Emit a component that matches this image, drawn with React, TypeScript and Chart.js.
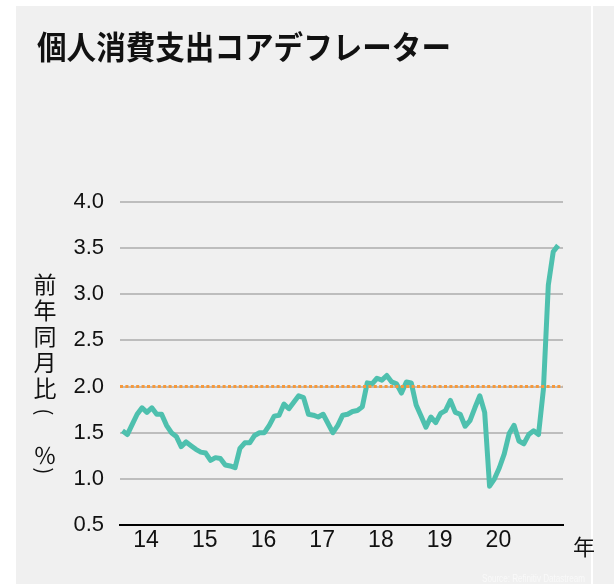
import React, { useEffect, useRef } from "react";
import { Chart, registerables } from "chart.js";

Chart.register(...registerables);

const chartTitle = "個人消費支出コアデフレーター";
const yAxisTitleChars = ["前", "年", "同", "月", "比"];
const yAxisUnitOpen = "(";
const yAxisUnit = "％";
const yAxisUnitClose = ")";
const xAxisUnit = "年";
const sourceText = "Source: Refinitiv Datastream";

const yearLabels = ["14", "15", "16", "17", "18", "19", "20"];
// Monthly core PCE deflator YoY (%), Jan 2014 – Jun 2021
const coreValues = [
  1.52, 1.48, 1.59, 1.70, 1.77, 1.72, 1.77, 1.70, 1.70, 1.58, 1.50, 1.46,
  1.35, 1.40, 1.36, 1.32, 1.29, 1.28, 1.20, 1.23, 1.22, 1.15, 1.14, 1.12,
  1.33, 1.39, 1.39, 1.47, 1.50, 1.50, 1.58, 1.68, 1.69, 1.81, 1.76, 1.83,
  1.90, 1.88, 1.70, 1.69, 1.67, 1.70, 1.60, 1.50, 1.58, 1.69, 1.70, 1.73,
  1.74, 1.78, 2.04, 2.03, 2.09, 2.07, 2.12, 2.05, 2.03, 1.93, 2.05, 2.04,
  1.80, 1.68, 1.56, 1.67, 1.61, 1.71, 1.74, 1.85, 1.72, 1.70, 1.57, 1.63,
  1.77, 1.90, 1.72, 0.92, 1.00, 1.12, 1.27, 1.49, 1.58, 1.41, 1.38, 1.48,
  1.52, 1.48, 1.97, 3.10, 3.46, 3.53,
];
const targetValue = 2.0;
const yMin = 0.5;
const yMax = 4.0;
const yStep = 0.5;

const W = 614;
const H = 584;

const decorPlugin = {
  id: "decor",
  beforeDraw(chart: any) {
    const ctx = chart.ctx;
    ctx.save();
    ctx.fillStyle = "#ffffff";
    ctx.fillRect(0, 0, W, H);
    ctx.fillStyle = "#f0f0f0";
    ctx.fillRect(16, 6, W - 16, H - 6);
    ctx.fillStyle = "#ffffff";
    ctx.fillRect(591, 6, 2, H - 6);
    ctx.restore();
  },
  afterDraw(chart: any) {
    const ctx = chart.ctx;
    ctx.save();
    ctx.fillStyle = "#111111";
    ctx.textBaseline = "middle";
    ctx.textAlign = "left";
    ctx.font = 'bold 32px "Noto Sans CJK JP"';
    ctx.fillText(chartTitle, 37, 47, 414);

    ctx.textAlign = "center";
    ctx.font = '23px "Noto Sans CJK JP"';
    const ys = [284, 310, 336, 362, 388];
    yAxisTitleChars.forEach((c, i) => ctx.fillText(c, 45, ys[i]));
    ctx.fillText(yAxisUnit, 45, 455);

    ctx.font = '20px "Noto Sans CJK JP"';
    ctx.save();
    ctx.translate(45, 412);
    ctx.rotate(Math.PI / 2);
    ctx.fillText(yAxisUnitOpen, 0, 0);
    ctx.restore();
    ctx.save();
    ctx.translate(45, 471);
    ctx.rotate(Math.PI / 2);
    ctx.fillText(yAxisUnitClose, 0, 0);
    ctx.restore();

    ctx.font = '22px "Noto Sans CJK JP"';
    ctx.fillText(xAxisUnit, 584, 547);

    ctx.font = '10px "Liberation Sans"';
    ctx.textAlign = "left";
    ctx.fillStyle = "#f9f9f9";
    ctx.fillText(sourceText, 482, 579, 103);
    ctx.restore();
  },
};

export default function App() {
  const ref = useRef<HTMLCanvasElement | null>(null);
  useEffect(() => {
    document.body.style.margin = "0";
    const canvas = ref.current;
    if (!canvas) return;
    const lineData = coreValues.map((v, i) => ({ x: i, y: v }));
    const chart = new Chart(canvas, {
      type: "line",
      data: {
        datasets: [
          {
            data: [
              { x: -0.5, y: targetValue },
              { x: 90, y: targetValue },
            ],
            borderColor: "#f7993a",
            borderWidth: 3,
            borderDash: [3, 2.4],
            pointRadius: 0,
          },
          {
            data: lineData,
            borderColor: "#4ec0ae",
            borderWidth: 5,
            pointRadius: 0,
            tension: 0,
            borderJoinStyle: "round",
          },
        ],
      },
      options: {
        animation: false,
        responsive: false,
        devicePixelRatio: 1,
        layout: { padding: { left: 0, top: 202, right: 51, bottom: 0 } },
        plugins: { legend: { display: false }, tooltip: { enabled: false } },
        scales: {
          x: {
            type: "linear",
            min: -0.5,
            max: 90,
            grid: { display: false, drawTicks: false },
            border: { color: "#000000", width: 2 },
            afterBuildTicks: (s: any) => {
              s.ticks = yearLabels.map((_, i) => ({ value: i * 12 + 4.8 }));
            },
            afterFit: (s: any) => {
              s.height = 59;
            },
            ticks: {
              autoSkip: false,
              maxRotation: 0,
              padding: 2,
              color: "#111111",
              font: { family: '"Liberation Sans", Arial', size: 23 },
              callback: (_v: any, i: number) => yearLabels[i],
            },
          },
          y: {
            min: yMin,
            max: yMax,
            border: { display: false },
            grid: {
              drawTicks: false,
              lineWidth: 2,
              color: (c: any) =>
                c.tick && c.tick.value === yMin ? "rgba(0,0,0,0)" : "#bdbdbd",
            },
            afterFit: (s: any) => {
              s.width = 120;
            },
            ticks: {
              stepSize: yStep,
              padding: 16,
              color: "#111111",
              font: { family: '"Liberation Sans", Arial', size: 22 },
              callback: (v: any) => Number(v).toFixed(1),
            },
          },
        },
      },
      plugins: [decorPlugin],
    });
    return () => chart.destroy();
  }, []);
  return (
    <div style={{ width: W, height: H }}>
      <canvas ref={ref} width={W} height={H} style={{ display: "block" }} />
    </div>
  );
}
